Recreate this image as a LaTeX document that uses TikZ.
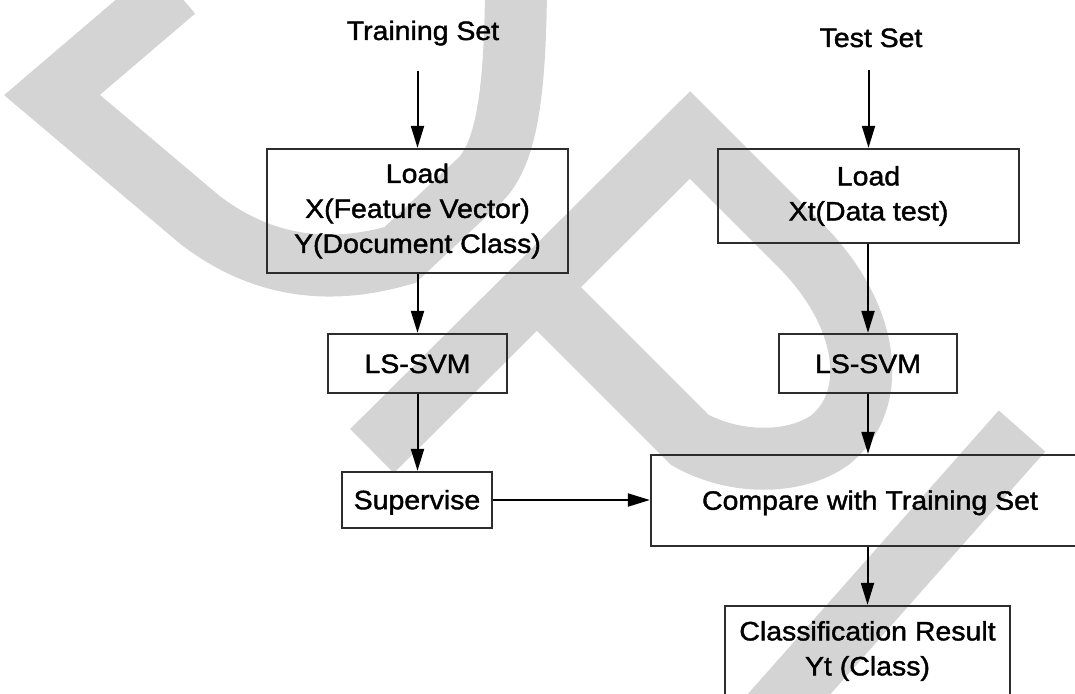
\documentclass[tikz,border=0pt]{standalone}
\usepackage{fontspec}
\setmainfont{Liberation Sans}[FakeStretch=1.07,FakeBold=1.5]
\usetikzlibrary{arrows.meta}
\definecolor{stampgray}{RGB}{212,212,212}
\definecolor{edge}{RGB}{45,45,45}
\begin{document}
\begin{tikzpicture}[x=1pt,y=-1pt,
  every node/.style={inner sep=0pt,
    font=\fontsize{26.6pt}{35pt}\selectfont,
    execute at begin node={\vrule width0pt height24pt depth5pt},
    execute at end node={\vrule width0pt height24pt depth5pt}},
  setname/.style={anchor=base},
  stepbox/.style={draw=edge, line width=2.3pt, align=center},
  flow/.style={draw=black, line width=2pt, -{Triangle[length=22pt,width=13pt]}},
  stamp/.style={draw=stampgray, line width=62pt, line join=miter, miter limit=10}]
\useasboundingbox (0,0) rectangle (1075,693);

% background stamp strokes
\draw[stamp] (175,-10) -- (52,95) -- (200,220)
  .. controls (255,262) and (320,278) .. (400,255) -- (480,180)
  .. controls (505,155) and (515,100) .. (516,-10);
\draw[stamp] (372,451) -- (690,135) -- (800,245)
  .. controls (870,315) and (880,400) .. (830,440)
  .. controls (795,465) and (735,465) .. (690,440) -- (536,286);
\draw[stamp] (1022,431) -- (760,727);

% inputs
\node[setname] (trs) at (423,40) {Training Set};
\node[setname] (tes) at (871,47) {Test Set};

% training branch
\node[stepbox, minimum width=301pt, minimum height=124pt] (l1) at (417.5,211)
  {Load\\X(Feature Vector)\\Y(Document Class)};
\node[stepbox, minimum width=179pt, minimum height=59pt] (l2) at (417.5,363.5) {LS-SVM};
\node[stepbox, minimum width=150pt, minimum height=56pt] (sup) at (417,500) {Supervise};

% test branch
\node[stepbox, minimum width=301pt, minimum height=94pt] (t1) at (868.5,196)
  {Load\\Xt(Data test)};
\node[stepbox, minimum width=178pt, minimum height=59pt] (t2) at (868,363.5) {LS-SVM};
\node[stepbox, minimum width=438pt, minimum height=91pt] (cmp) at (870,500.5)
  {Compare with Training Set};
\node[stepbox, minimum width=285pt, minimum height=90pt] (res) at (867.5,651)
  {Classification Result\\Yt (Class)};

% connectors
\draw[flow, shorten <=25pt] (trs.south -| l1.north) -- (l1.north);
\draw[flow] (l1.south) -- (l2.north);
\draw[flow] (l2.south) -- (l2.south |- sup.north);
\draw[flow, shorten <=18pt] (tes.south -| t1.north) -- (t1.north);
\draw[flow] (t1.south -| t2.north) -- (t2.north);
\draw[flow] (t2.south) -- (t2.south |- cmp.north);
\draw[flow] (sup.east) -- (sup.east -| cmp.west);
\draw[flow] (res.north |- cmp.south) -- (res.north);
\end{tikzpicture}
\end{document}
